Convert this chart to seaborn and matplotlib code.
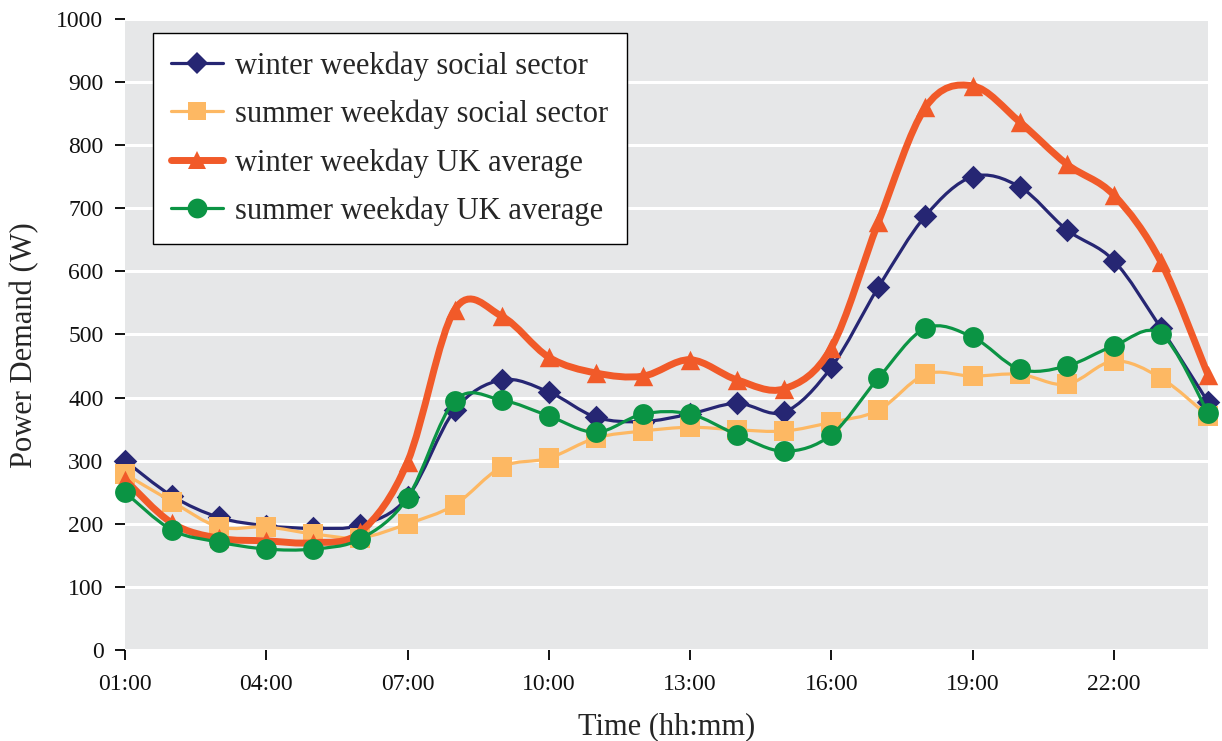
import numpy as np
import pandas as pd
import matplotlib
matplotlib.use('Agg')
import matplotlib.pyplot as plt
from matplotlib.path import Path
from matplotlib.patches import PathPatch
from matplotlib.lines import Line2D
import seaborn as sns

hours = list(range(1, 25))
tick_hours = [1, 4, 7, 10, 13, 16, 19, 22]
tick_labels = ['01:00', '04:00', '07:00', '10:00', '13:00', '16:00', '19:00', '22:00']

winter_social = [300, 244, 210, 197, 193, 198, 242, 380, 428, 409, 369, 362, 374, 391, 377, 448,
                 575, 688, 750, 734, 666, 617, 510, 393]
summer_social = [279, 235, 195, 195, 184, 178, 200, 230, 290, 304, 336, 347, 353, 349, 347, 361,
                 380, 437, 434, 437, 421, 458, 431, 371]
winter_uk = [270, 201, 177, 173, 170, 187, 298, 539, 529, 464, 439, 434, 460, 428, 414, 479,
             678, 860, 894, 837, 770, 721, 615, 436]
summer_uk = [250, 190, 171, 160, 160, 176, 241, 395, 396, 371, 345, 374, 374, 341, 315, 341,
             431, 510, 496, 445, 450, 482, 501, 376]

names = ['winter weekday social sector', 'summer weekday social sector',
         'winter weekday UK average', 'summer weekday UK average']
colors = ['#262673', '#fdb863', '#f15a29', '#0b9444']
markers = ['D', 's', '^', 'o']
msizes = [12, 14, 14, 15]
lws = [2.3, 2.3, 5.0, 2.3]

df = pd.DataFrame({'hour': hours * 4,
                   'power': winter_social + summer_social + winter_uk + summer_uk,
                   'series': sum([[n] * len(hours) for n in names], [])})


def smooth_path(x, y):
    # catmull-rom style bezier like the spreadsheet "smoothed line"
    x = np.asarray(x, float)
    y = np.asarray(y, float)
    pts = np.column_stack([x, y])
    ext = np.vstack([pts[0], pts, pts[-1]])
    verts = [pts[0]]
    codes = [Path.MOVETO]
    for i in range(len(pts) - 1):
        p0, p1, p2, p3 = ext[i], ext[i + 1], ext[i + 2], ext[i + 3]
        c1 = p1 + (p2 - p0) / 6.0
        c2 = p2 - (p3 - p1) / 6.0
        verts += [c1, c2, p2]
        codes += [Path.CURVE4] * 3
    return Path(verts, codes)


sns.set_theme(style='white')
plt.rcParams['font.family'] = ['Liberation Serif', 'DejaVu Serif']

fig = plt.figure(figsize=(12.22, 7.41), dpi=100)
ax = fig.add_axes([125 / 1222, 91 / 741, (1208 - 125) / 1222, 631 / 741])
ax.set_facecolor('#e6e7e8')

handles = []
for k, name in enumerate(names):
    sub = df[df['series'] == name]
    patch = PathPatch(smooth_path(sub['hour'], sub['power']), facecolor='none',
                      edgecolor=colors[k], lw=lws[k], zorder=3 + 2 * k, capstyle='round')
    ax.add_patch(patch)
    sns.scatterplot(data=sub, x='hour', y='power', marker=markers[k], color=colors[k],
                    s=msizes[k] ** 2, linewidth=0, ax=ax, zorder=4 + 2 * k, legend=False,
                    clip_on=False)
    handles.append(Line2D([], [], color=colors[k], lw=lws[k], marker=markers[k],
                          markersize=msizes[k] * 0.95, markeredgewidth=0))

ax.set_xlim(1, 24)
ax.set_ylim(0, 1000)
ax.set_yticks(range(0, 1001, 100))
ax.set_xticks(tick_hours)
ax.set_xticklabels(tick_labels)
ax.yaxis.grid(True, color='white', lw=2.2)
ax.set_axisbelow(True)
for s in ax.spines.values():
    s.set_visible(False)
ax.tick_params(axis='both', direction='out', length=7.5, width=1.3, color='black',
               labelsize=17, labelcolor='#111111', left=True, bottom=True)
ax.tick_params(axis='y', pad=8)
ax.tick_params(axis='x', pad=10)
ax.set_xlabel('Time (hh:mm)', fontsize=22, labelpad=12)
ax.set_ylabel('Power Demand (W)', fontsize=22, labelpad=12, y=0.483)

leg = ax.legend(handles, names, loc='upper left', bbox_to_anchor=(0.026, 0.978),
                borderaxespad=0, fontsize=22, frameon=True, fancybox=False,
                handlelength=1.67, labelspacing=0.62, borderpad=0.6, handletextpad=0.42)
leg.get_frame().set_edgecolor('black')
leg.get_frame().set_linewidth(1.0)
leg.get_frame().set_facecolor('white')
leg.get_frame().set_alpha(1)
leg.set_zorder(20)

fig.savefig('out.png', dpi=100)
